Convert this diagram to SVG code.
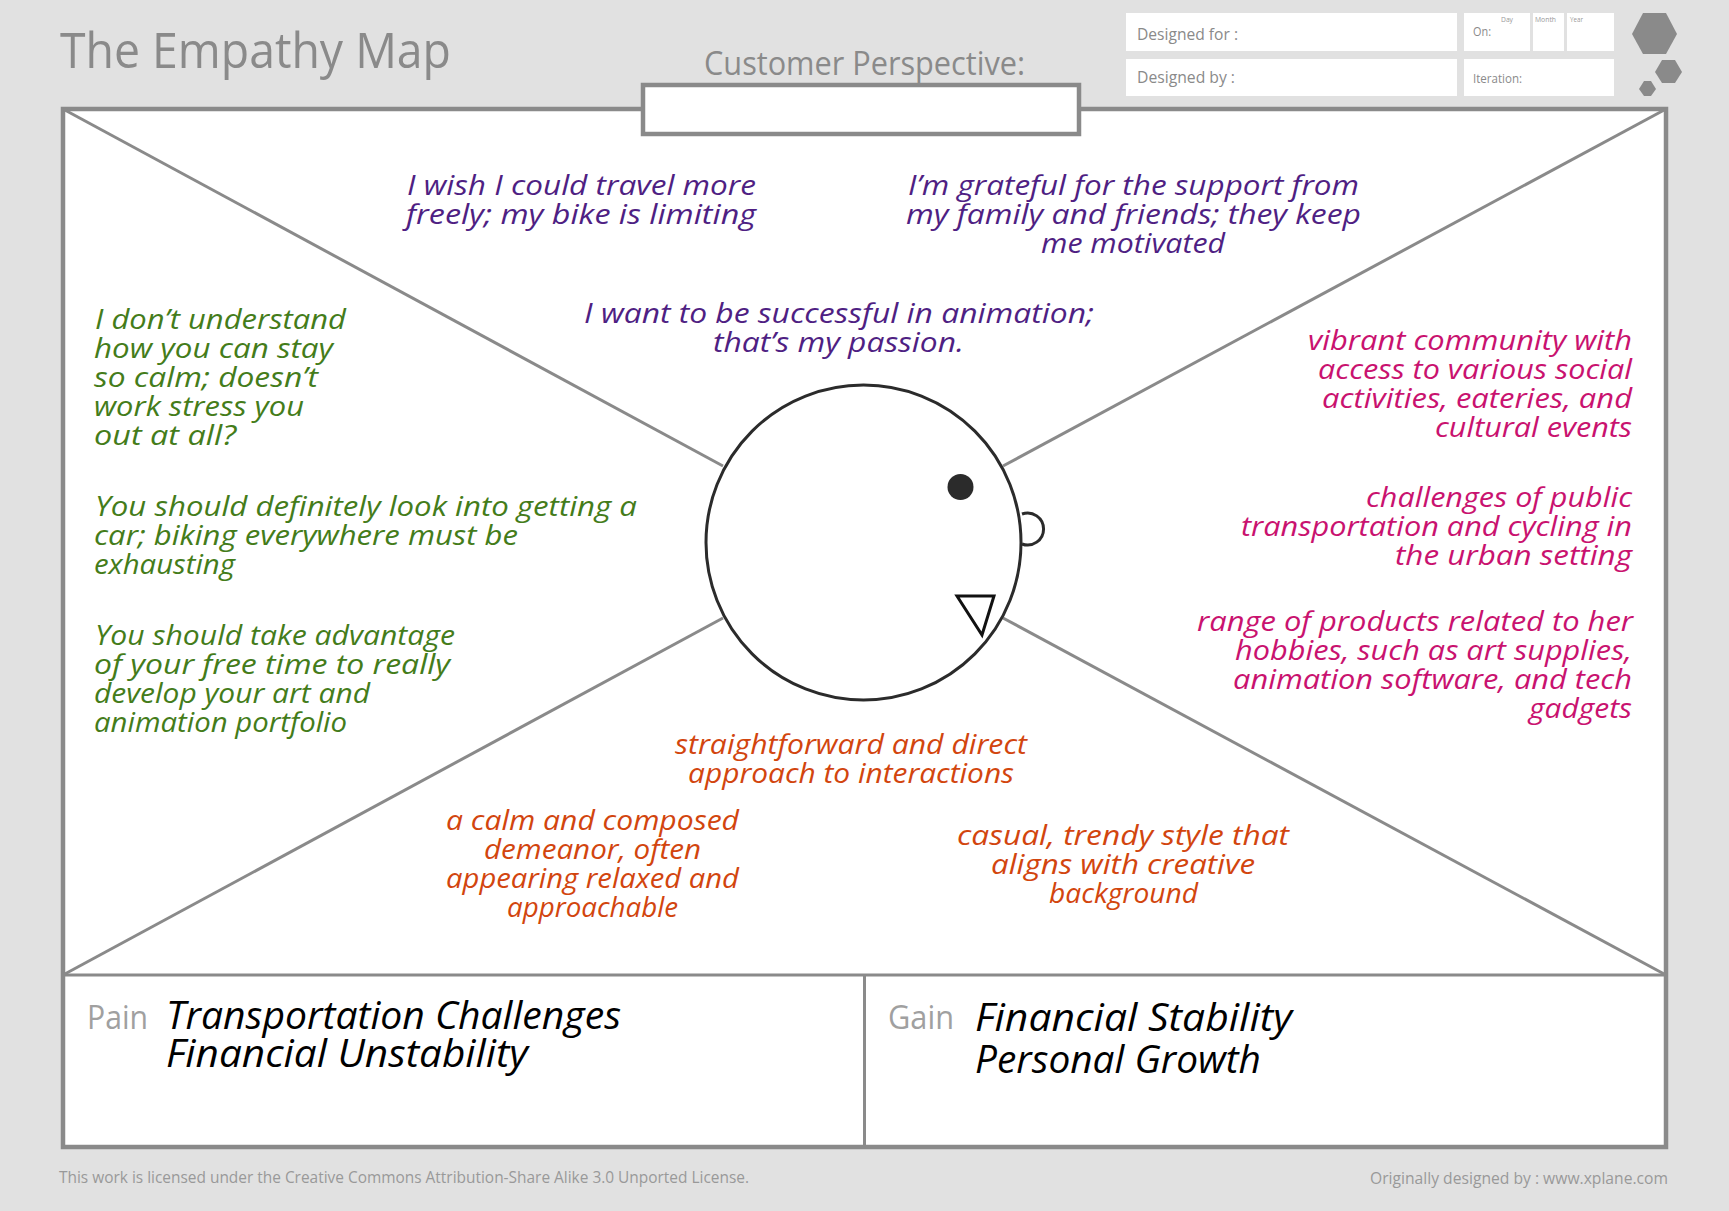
<svg xmlns="http://www.w3.org/2000/svg" width="1729" height="1211" viewBox="0 0 1729 1211">
<style>
text{font-family:"Open Sans","Noto Sans","Liberation Sans",sans-serif}
.h{font-style:italic;font-size:27px}
.big{font-style:italic;font-size:38px;fill:#000}
.purple{fill:#4f1f83}.green{fill:#447c1a}.pink{fill:#c9126f}.orange{fill:#d2450e}
.g{fill:#8a8a8a}.lab{fill:#8a8a8a;font-size:16px}.small{fill:#8a8a8a;font-size:12px}.tiny{fill:#999;font-size:7px}
.box{fill:#fff;stroke:#8a8a8a;stroke-width:4.5}
.field{fill:#fff}
.line{stroke:#8a8a8a;stroke-width:3;fill:none}
.ink{fill:#fff;stroke:#2b2b2b;stroke-width:3}
</style>
<rect width="1729" height="1211" fill="#e1e1e1"/>
<g id="header">
<text class="g" x="60" y="68" font-size="50" textLength="391" lengthAdjust="spacingAndGlyphs">The Empathy Map</text>
<text class="g" x="704" y="75" font-size="33" textLength="321" lengthAdjust="spacingAndGlyphs">Customer Perspective:</text>
<rect class="field" x="1126" y="13" width="331" height="38"/>
<rect class="field" x="1126" y="59" width="331" height="37"/>
<rect class="field" x="1464" y="13" width="66" height="38"/>
<rect class="field" x="1533" y="13" width="31" height="38"/>
<rect class="field" x="1567" y="13" width="47" height="38"/>
<rect class="field" x="1464" y="59" width="150" height="37"/>
<text class="lab" x="1137" y="40" textLength="101" lengthAdjust="spacingAndGlyphs">Designed for :</text>
<text class="lab" x="1137" y="83" textLength="98" lengthAdjust="spacingAndGlyphs">Designed by :</text>
<text class="small" x="1473" y="36" textLength="18" lengthAdjust="spacingAndGlyphs">On:</text>
<text class="small" x="1473" y="83" textLength="49" lengthAdjust="spacingAndGlyphs">Iteration:</text>
<text class="tiny" x="1501" y="22" textLength="12" lengthAdjust="spacingAndGlyphs">Day</text>
<text class="tiny" x="1535" y="22" textLength="21" lengthAdjust="spacingAndGlyphs">Month</text>
<text class="tiny" x="1570" y="22" textLength="13" lengthAdjust="spacingAndGlyphs">Year</text>
<polygon class="g" points="1632,34 1643,13 1666,13 1677,34 1666,54 1643,54"/>
<polygon class="g" points="1655,72 1662,60 1675,60 1682,72 1675,83 1662,83"/>
<polygon class="g" points="1639,89 1644,81 1651,81 1656,89 1651,96 1644,96"/>
</g>
<g id="frame">
<rect class="box" x="63" y="109" width="1603" height="1038"/>
</g>
<g id="connectors">
<line class="line" x1="63" y1="109" x2="723" y2="466"/>
<line class="line" x1="1666" y1="109" x2="1003" y2="466"/>
<line class="line" x1="63" y1="975" x2="723" y2="618"/>
<line class="line" x1="1666" y1="975" x2="1003" y2="618"/>
<line class="line" x1="63" y1="975" x2="1666" y2="975"/>
<line class="line" x1="864.5" y1="975" x2="864.5" y2="1147"/>
</g>
<g id="perspective">
<rect class="box" x="643" y="85" width="436" height="49"/>
</g>
<g id="head">
<path d="M1022 514A16 16 0 1 1 1022 544" fill="none" stroke="#2b2b2b" stroke-width="3"/>
<circle class="ink" cx="863.5" cy="542.5" r="157.5"/>
<circle cx="960.5" cy="487" r="13" fill="#2b2b2b"/>
<polygon points="957,596 994,596 982,635" fill="#fff" stroke="#111" stroke-width="3"/>
</g>
<g id="thinks" class="h purple">
<text x="407" y="195" textLength="349" lengthAdjust="spacingAndGlyphs">I wish I could travel more</text>
<text x="406" y="224" textLength="350" lengthAdjust="spacingAndGlyphs">freely; my bike is limiting</text>
<text x="908" y="195" textLength="451" lengthAdjust="spacingAndGlyphs">I’m grateful for the support from</text>
<text x="906" y="224" textLength="455" lengthAdjust="spacingAndGlyphs">my family and friends; they keep</text>
<text x="1041" y="253" textLength="184" lengthAdjust="spacingAndGlyphs">me motivated</text>
<text x="584" y="323" textLength="510" lengthAdjust="spacingAndGlyphs">I want to be successful in animation;</text>
<text x="713" y="352" textLength="251" lengthAdjust="spacingAndGlyphs">that’s my passion.</text>
</g>
<g id="hears" class="h green">
<text x="95" y="329" textLength="251" lengthAdjust="spacingAndGlyphs">I don’t understand</text>
<text x="94" y="358" textLength="239" lengthAdjust="spacingAndGlyphs">how you can stay</text>
<text x="94" y="387" textLength="224" lengthAdjust="spacingAndGlyphs">so calm; doesn’t</text>
<text x="94" y="416" textLength="210" lengthAdjust="spacingAndGlyphs">work stress you</text>
<text x="94" y="445" textLength="142" lengthAdjust="spacingAndGlyphs">out at all?</text>
<text x="95" y="516" textLength="542" lengthAdjust="spacingAndGlyphs">You should definitely look into getting a</text>
<text x="94" y="545" textLength="424" lengthAdjust="spacingAndGlyphs">car; biking everywhere must be</text>
<text x="94" y="574" textLength="141" lengthAdjust="spacingAndGlyphs">exhausting</text>
<text x="95" y="645" textLength="360" lengthAdjust="spacingAndGlyphs">You should take advantage</text>
<text x="94" y="674" textLength="356" lengthAdjust="spacingAndGlyphs">of your free time to really</text>
<text x="94" y="703" textLength="276" lengthAdjust="spacingAndGlyphs">develop your art and</text>
<text x="94" y="732" textLength="253" lengthAdjust="spacingAndGlyphs">animation portfolio</text>
</g>
<g id="sees" class="h pink">
<text x="1308" y="350" textLength="324" lengthAdjust="spacingAndGlyphs">vibrant community with</text>
<text x="1318" y="379" textLength="314" lengthAdjust="spacingAndGlyphs">access to various social</text>
<text x="1322" y="408" textLength="310" lengthAdjust="spacingAndGlyphs">activities, eateries, and</text>
<text x="1435" y="437" textLength="197" lengthAdjust="spacingAndGlyphs">cultural events</text>
<text x="1366" y="507" textLength="266" lengthAdjust="spacingAndGlyphs">challenges of public</text>
<text x="1241" y="536" textLength="391" lengthAdjust="spacingAndGlyphs">transportation and cycling in</text>
<text x="1395" y="565" textLength="237" lengthAdjust="spacingAndGlyphs">the urban setting</text>
<text x="1197" y="631" textLength="436" lengthAdjust="spacingAndGlyphs">range of products related to her</text>
<text x="1235" y="660" textLength="397" lengthAdjust="spacingAndGlyphs">hobbies, such as art supplies,</text>
<text x="1233" y="689" textLength="399" lengthAdjust="spacingAndGlyphs">animation software, and tech</text>
<text x="1529" y="718" textLength="103" lengthAdjust="spacingAndGlyphs">gadgets</text>
</g>
<g id="does" class="h orange">
<text x="675" y="754" textLength="352" lengthAdjust="spacingAndGlyphs">straightforward and direct</text>
<text x="688" y="783" textLength="326" lengthAdjust="spacingAndGlyphs">approach to interactions</text>
<text x="446" y="830" textLength="293" lengthAdjust="spacingAndGlyphs">a calm and composed</text>
<text x="484" y="859" textLength="217" lengthAdjust="spacingAndGlyphs">demeanor, often</text>
<text x="446" y="888" textLength="293" lengthAdjust="spacingAndGlyphs">appearing relaxed and</text>
<text x="507" y="917" textLength="171" lengthAdjust="spacingAndGlyphs">approachable</text>
<text x="957" y="845" textLength="332" lengthAdjust="spacingAndGlyphs">casual, trendy style that</text>
<text x="991" y="874" textLength="264" lengthAdjust="spacingAndGlyphs">aligns with creative</text>
<text x="1049" y="903" textLength="149" lengthAdjust="spacingAndGlyphs">background</text>
</g>
<g id="pain">
<text x="87" y="1029" font-size="32" fill="#a0a0a0" textLength="61" lengthAdjust="spacingAndGlyphs">Pain</text>
<text class="big" x="166" y="1029" textLength="455" lengthAdjust="spacingAndGlyphs">Transportation Challenges</text>
<text class="big" x="166" y="1067" textLength="362" lengthAdjust="spacingAndGlyphs">Financial Unstability</text>
</g>
<g id="gain">
<text x="888" y="1029" font-size="32" fill="#a0a0a0" textLength="66" lengthAdjust="spacingAndGlyphs">Gain</text>
<text class="big" x="975" y="1031" textLength="317" lengthAdjust="spacingAndGlyphs">Financial Stability</text>
<text class="big" x="975" y="1073" textLength="286" lengthAdjust="spacingAndGlyphs">Personal Growth</text>
</g>
<g id="footer">
<text x="59" y="1183" font-size="16" fill="#999" textLength="690" lengthAdjust="spacingAndGlyphs">This work is licensed under the Creative Commons Attribution-Share Alike 3.0 Unported License.</text>
<text x="1370" y="1184" font-size="16" fill="#999" textLength="298" lengthAdjust="spacingAndGlyphs">Originally designed by : www.xplane.com</text>
</g>
</svg>
